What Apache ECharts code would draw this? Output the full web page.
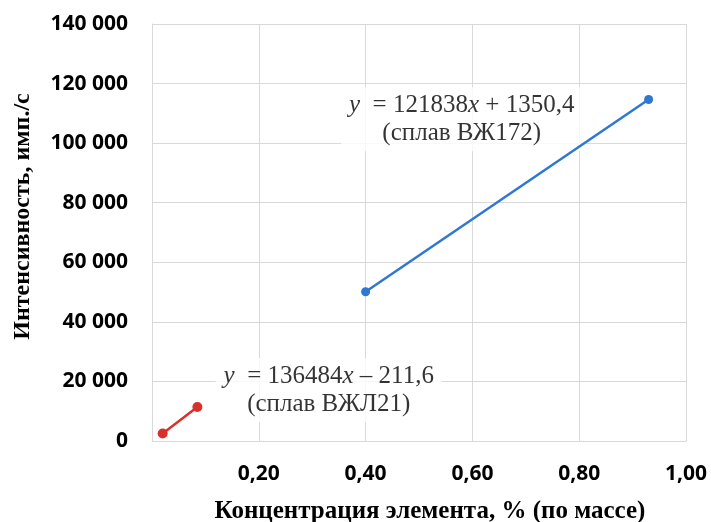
<!DOCTYPE html>
<html>
<head>
<meta charset="utf-8">
<script src="https://cdn.jsdelivr.net/npm/echarts@6/dist/echarts.min.js"></script>
<style>html,body{margin:0;padding:0;background:#fff}#c{width:711px;height:522px}</style>
</head>
<body>
<div id="c"></div>
<script>
// Data
const redX = [0.02, 0.085];
const redY = [2520, 11390];
const blueX = [0.40, 0.93];
const blueY = [50090, 114660];
const xTicks = [0, 0.2, 0.4, 0.6, 0.8, 1.0];
const yTicks = [0, 20000, 40000, 60000, 80000, 100000, 120000, 140000];
const redEq = { slope: '136484', sign: '–', icpt: '211,6', alloy: 'ВЖЛ21' };
const blueEq = { slope: '121838', sign: '+', icpt: '1350,4', alloy: 'ВЖ172' };
const xTitle = 'Концентрация элемента, % (по массе)';
const yTitle = 'Интенсивность, имп./с';
// anchor points (data coords) for equation labels
const redLabelAt = [0.331, 17000];
const blueLabelAt = [0.580, 108000];

const RED = '#d8312c';
const BLUE = '#2f78d2';
const GRID = '#d9d9d9';

const fmtX = v => v === 0 ? '' : v.toFixed(2).replace('.', ',');
const fmtY = v => v === 0 ? '0' : String(v).replace(/\B(?=(\d{3})+(?!\d))/g, ' ');

const rich = {
  i: { fontFamily: 'Liberation Serif', fontStyle: 'italic', fontSize: 25, color: '#000', lineHeight: 28 },
  n: { fontFamily: 'Liberation Serif', fontSize: 25, color: '#000', lineHeight: 28 }
};
function eqLabel(e) {
  return '{i|y}{n|  = ' + e.slope + '}{i|x}{n| ' + e.sign + ' ' + e.icpt + '}\n{n|(сплав ' + e.alloy + ')}';
}

const chart = echarts.init(document.getElementById('c'));
chart.setOption({
  animation: false,
  backgroundColor: '#fff',
  grid: { left: 152, right: 25, top: 24, bottom: 81, containLabel: false, outerBoundsMode: 'none' },
  xAxis: {
    type: 'value', min: 0, max: 1, interval: 0.2,
    name: xTitle, nameLocation: 'middle', nameGap: 58,
    nameTextStyle: { fontFamily: 'Liberation Serif', fontWeight: 'bold', fontSize: 25, color: '#000', padding: [0, 0, 0, 22] },
    axisLine: { show: true, lineStyle: { color: GRID, width: 1 } },
    axisTick: { show: false },
    axisLabel: { formatter: fmtX, margin: 23, fontFamily: 'Open Sans', fontWeight: 'bold', fontSize: 21, color: '#000' },
    splitLine: { show: true, lineStyle: { color: GRID, width: 1 } }
  },
  yAxis: {
    type: 'value', min: 0, max: 140000, interval: 20000,
    name: yTitle, nameLocation: 'middle', nameGap: 117, nameRotate: 90,
    nameTextStyle: { fontFamily: 'Liberation Serif', fontWeight: 'bold', fontSize: 24, color: '#000', padding: [0, 0, 0, 32] },
    axisLine: { show: true, lineStyle: { color: GRID, width: 1 } },
    axisTick: { show: false },
    axisLabel: { formatter: fmtY, margin: 24, fontFamily: 'Open Sans', fontWeight: 'bold', fontSize: 21, color: '#000' },
    splitLine: { show: true, lineStyle: { color: GRID, width: 1 } }
  },
  series: [
    {
      type: 'scatter', z: 1, symbolSize: 0, silent: true,
      data: [{ value: redLabelAt, label: { formatter: eqLabel(redEq) } },
             { value: blueLabelAt, label: { formatter: eqLabel(blueEq) } }],
      label: { show: true, position: 'inside', align: 'center', verticalAlign: 'middle',
               backgroundColor: '#fff', padding: [4, 8, 4, 8], rich: rich }
    },
    {
      type: 'line', z: 3, data: redX.map((x, i) => [x, redY[i]]),
      symbol: 'circle', symbolSize: 10, showSymbol: true,
      lineStyle: { color: RED, width: 2.5 }, itemStyle: { color: RED }
    },
    {
      type: 'line', z: 3, data: blueX.map((x, i) => [x, blueY[i]]),
      symbol: 'circle', symbolSize: 9, showSymbol: true,
      lineStyle: { color: BLUE, width: 2.5 }, itemStyle: { color: BLUE }
    }
  ]
});
</script>
</body>
</html>
